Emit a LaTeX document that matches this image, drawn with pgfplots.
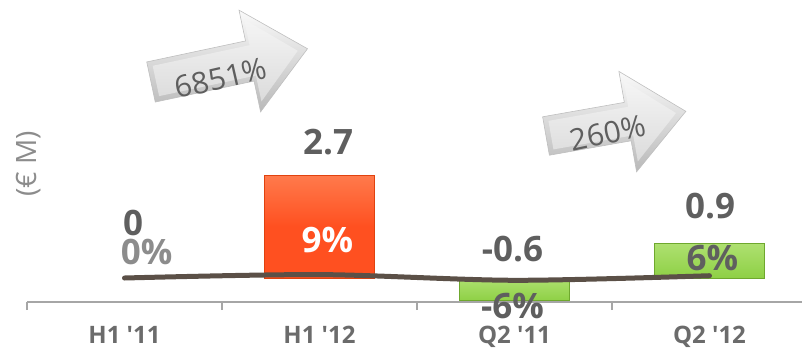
\documentclass[border=0pt]{standalone}
\usepackage{pgfplots}
\pgfplotsset{compat=1.18}
\usepackage{fontspec}
\setmainfont{Open Sans}[Ligatures=TeXOff]
\definecolor{lab}{HTML}{5F5F5F}
\definecolor{lablt}{HTML}{8C8C8C}
\definecolor{tickc}{HTML}{6B6B6B}
\definecolor{axisc}{HTML}{A6A6A6}
\definecolor{orng}{HTML}{FF5020}
\definecolor{orngl}{HTML}{FF7A4C}
\definecolor{orngd}{HTML}{E0420F}
\definecolor{grn}{HTML}{8ED045}
\definecolor{grnl}{HTML}{AEE070}
\definecolor{grnd}{HTML}{6FA82E}
\definecolor{linec}{HTML}{5B5047}
\definecolor{arrtxt}{HTML}{5E5E5E}

% x y angle length base headhalf shafthalf
\newcommand{\bigarrow}[7]{%
 \begin{scope}[shift={(#1pt,#2pt)},rotate=#3]
  \shade[top color=gray!4, bottom color=gray!55, draw=gray!50, line width=0.6pt]
   (0pt,-#7pt) -- (#5pt,-#7pt) -- (#5pt,-#6pt) -- (#4pt,0pt) -- (#5pt,#6pt) -- (#5pt,#7pt) -- (0pt,#7pt) -- cycle;
  \shade[top color=gray!8, bottom color=gray!28]
   (5pt,{-#7pt+5pt}) -- ({#5pt+3pt},{-#7pt+5pt}) -- ({#5pt+3pt},{-#6pt+10pt}) -- ({#4pt-10pt},0pt) -- ({#5pt+3pt},{#6pt-10pt}) -- ({#5pt+3pt},{#7pt-5pt}) -- (5pt,{#7pt-5pt}) -- cycle;
 \end{scope}}

\begin{document}
\begin{tikzpicture}
\useasboundingbox (0pt,0pt) rectangle (802pt,348pt);
\bigarrow{151}{266}{12}{160}{101}{52}{20.5}
\node[rotate=13, text=arrtxt, font=\fontsize{30}{32}\selectfont] at (221pt,270pt) {6851\%};
\bigarrow{546}{212}{10}{142}{83}{51}{19.5}
\node[rotate=12, text=arrtxt, font=\fontsize{30}{32}\selectfont] at (608pt,215pt) {260\%};
\node[rotate=90, text=lablt, font=\fontsize{28}{30}\selectfont] at (29pt,184pt) {(€ M)};
\begin{axis}[
  at={(27pt,46pt)}, anchor=south west,
  scale only axis, width=780pt, height=302pt,
  xmin=-0.5, xmax=3.5, ymin=-0.63, ymax=7.3,
  axis x line*=bottom, axis y line=none,
  x axis line style={axisc, line width=2pt, -},
  xtick={0,1,2,3},
  xticklabels={H1 '11, H1 '12, Q2 '11, Q2 '12},
  minor xtick={-0.5,0.5,1.5,2.5,3.5},
  major tick length=0pt, minor tick length=8pt,
  tick align=outside,
  minor tick style={axisc, line width=1.5pt},
  xticklabel style={font=\bfseries\fontsize{24}{26}\selectfont, text=tickc, anchor=base, yshift=-41pt, inner sep=0pt},
  clip=false,
  ybar, bar width=110pt,
]
\addplot[ybar, bar shift=0pt, top color=orngl, bottom color=orng, middle color=orng, draw=orngd, line width=0.8pt] coordinates {(1,2.7)};
\addplot[ybar, bar shift=0pt, top color=grnl, bottom color=grn, draw=grnd, line width=0.8pt] coordinates {(2,-0.6)};
\addplot[ybar, bar shift=0pt, top color=grnl, bottom color=grn, draw=grnd, line width=0.8pt] coordinates {(3,0.9)};
\addplot[sharp plot, smooth, linec, line width=5pt, line cap=round, no marks] coordinates {(0,0) (1,0.09) (2,-0.06) (3,0.06)};
\begin{scope}[every node/.style={font=\bfseries\fontsize{35}{37}\selectfont, text=lab, inner sep=0pt}]
\node at (axis cs:0.044,1.44) {0};
\node[text=lablt] at (axis cs:0.114,0.68) {0\%};
\node at (axis cs:1.044,3.56) {2.7};
\node[text=white] at (axis cs:1.041,1.0) {9\%};
\node at (axis cs:1.99,0.76) {-0.6};
\node at (axis cs:1.99,-0.74) {-6\%};
\node at (axis cs:3.003,1.90) {0.9};
\node at (axis cs:3.015,0.52) {6\%};
\end{scope}
\end{axis}
\end{tikzpicture}
\end{document}
